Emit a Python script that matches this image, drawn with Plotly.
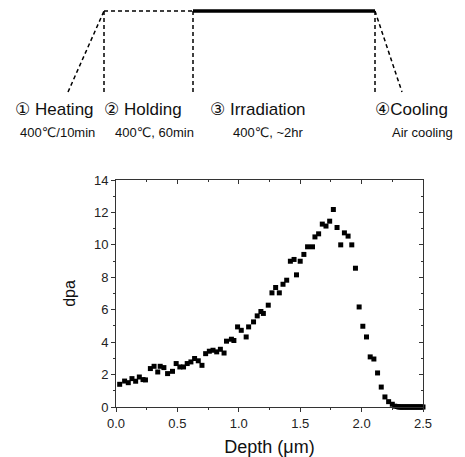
import plotly.graph_objects as go

# ---- data ----
depth_um = [0.03, 0.07, 0.10, 0.13, 0.16, 0.19, 0.22, 0.24, 0.28, 0.31, 0.34, 0.36, 0.39, 0.42,
            0.46, 0.49, 0.52, 0.55, 0.58, 0.61, 0.64, 0.67, 0.70, 0.73, 0.76, 0.79, 0.82, 0.85,
            0.88, 0.90, 0.94, 0.96, 0.99, 1.02, 1.06, 1.08, 1.12, 1.15, 1.18, 1.20, 1.24, 1.27,
            1.30, 1.33, 1.36, 1.39, 1.42, 1.45, 1.47, 1.50, 1.53, 1.56, 1.60, 1.62, 1.65, 1.68,
            1.71, 1.74, 1.77, 1.80, 1.83, 1.86, 1.89, 1.92, 1.95, 1.98, 2.01, 2.04, 2.07, 2.10,
            2.13, 2.16, 2.19, 2.22, 2.25, 2.27, 2.29, 2.30, 2.31, 2.32, 2.33, 2.34, 2.35, 2.36,
            2.37, 2.38, 2.39, 2.40, 2.41, 2.42, 2.43, 2.44, 2.45, 2.46, 2.47, 2.48, 2.49, 2.50]
dpa = [1.40, 1.60, 1.50, 1.75, 1.59, 1.85, 1.69, 1.67, 2.37, 2.51, 2.16, 2.51, 2.43, 2.06,
       2.20, 2.68, 2.47, 2.47, 2.68, 2.78, 2.99, 2.85, 2.57, 3.29, 3.44, 3.50, 3.40, 3.56,
       3.33, 4.06, 4.18, 4.10, 4.94, 4.73, 4.32, 4.94, 5.25, 5.62, 5.89, 5.77, 6.28, 7.04,
       7.37, 7.04, 7.57, 7.82, 8.99, 9.10, 8.15, 8.99, 9.41, 9.88, 9.88, 10.49, 10.68, 11.28,
       11.16, 11.46, 12.18, 11.07, 10.00, 10.74, 10.54, 10.00, 8.56, 6.17, 4.98, 4.32, 3.09, 2.96,
       2.10, 1.23, 0.62, 0.33, 0.17, 0.05, 0.03, 0.01, 0.0, 0.0, 0.0, 0.0, 0.0, 0.0,
       0.0, 0.0, 0.0, 0.0, 0.0, 0.0, 0.0, 0.0, 0.0, 0.0, 0.0, 0.0, 0.0, 0.0]

x_ticks = [0.0, 0.5, 1.0, 1.5, 2.0, 2.5]
x_ticklabels = ["0.0", "0.5", "1.0", "1.5", "2.0", "2.5"]
x_minor = [0.25, 0.75, 1.25, 1.75, 2.25]
y_ticks = [0, 2, 4, 6, 8, 10, 12, 14]
y_minor = [1, 3, 5, 7, 9, 11, 13]

stage_titles = ["① Heating", "② Holding", "③ Irradiation", "④Cooling"]
stage_conditions = ["400℃/10min", "400℃, 60min", "400℃, ~2hr", "Air cooling"]

# ---- layout helpers (page has an 8px body margin) ----
M = 8
W, H = 465 - M, 457 - M
def px(x):
    return (x - M) / W
def py(y):
    return 1 - (y - M) / H

FONT = "Arial, 'Liberation Sans', 'DejaVu Sans', sans-serif"
AX = "#333333"

fig = go.Figure()
fig.add_trace(go.Scatter(x=depth_um, y=dpa, mode="markers",
                         marker=dict(symbol="square", size=5, color="black"),
                         cliponaxis=False, showlegend=False, hoverinfo="skip"))
# invisible trace for mirrored (top/right) axes
fig.add_trace(go.Scatter(x=depth_um, y=dpa, mode="markers", xaxis="x2", yaxis="y2",
                         marker=dict(opacity=0), showlegend=False, hoverinfo="skip"))

xdom = [px(116), px(423)]
ydom = [py(407), py(180)]

common = dict(showline=True, linecolor=AX, linewidth=1, showgrid=False, zeroline=False,
              tickcolor=AX, ticklen=4, automargin=False)

fig.update_layout(
    width=W, height=H,
    margin=dict(l=0, r=0, t=0, b=0, pad=0, autoexpand=False),
    paper_bgcolor="white", plot_bgcolor="white",
    font=dict(family=FONT, color="#222222", size=13),
    xaxis=dict(domain=xdom, range=[0, 2.5], tickvals=x_ticks, ticktext=x_ticklabels,
               ticks="outside", minor=dict(tickvals=x_minor, ticks="outside", ticklen=2, tickcolor=AX),
               tickfont=dict(size=13, color="#222222"),
               title=dict(text="Depth (μm)", font=dict(size=18, color="#111111"), standoff=10),
               **common),
    yaxis=dict(domain=ydom, range=[0, 14], tickvals=y_ticks,
               ticks="outside", minor=dict(tickvals=y_minor, ticks="outside", ticklen=2, tickcolor=AX),
               tickfont=dict(size=13, color="#222222"),
               title=dict(text="dpa", font=dict(size=16, color="#111111"), standoff=14),
               **common),
    xaxis2=dict(overlaying="x", side="top", range=[0, 2.5], tickvals=x_ticks,
                ticks="inside", showticklabels=False,
                minor=dict(tickvals=x_minor, ticks="inside", ticklen=2, tickcolor=AX), **common),
    yaxis2=dict(overlaying="y", side="right", range=[0, 14], tickvals=y_ticks,
                ticks="inside", showticklabels=False,
                minor=dict(tickvals=y_minor, ticks="inside", ticklen=2, tickcolor=AX), **common),
)

# ---- schematic of the thermal history ----
dash = "4px,3px"
def seg(x0, y0, x1, y1, width=1.5, dashed=True):
    fig.add_shape(type="line", xref="paper", yref="paper",
                  x0=px(x0), y0=py(y0), x1=px(x1), y1=py(y1),
                  line=dict(color="black", width=width, dash=dash if dashed else "solid"))

top, bot = 11, 92
seg(68, bot, 104, top)            # heating ramp
seg(104, top, 193, top)           # holding
seg(193, top, 375, top, width=3.5, dashed=False)   # irradiation
seg(375, top, 402, bot)           # cooling ramp
for xv in (104, 193, 375):
    seg(xv, top, xv, bot)

title_x = [54, 143, 258, 411]
cond_x = [57, 154, 268, 422]
for t, c, tx, cx in zip(stage_titles, stage_conditions, title_x, cond_x):
    fig.add_annotation(xref="paper", yref="paper", x=px(tx), y=py(110), text=t,
                       showarrow=False, xanchor="center", yanchor="middle",
                       font=dict(size=17, color="#111111"))
    fig.add_annotation(xref="paper", yref="paper", x=px(cx), y=py(133), text=c,
                       showarrow=False, xanchor="center", yanchor="middle",
                       font=dict(size=13, color="#111111"))

fig.write_html("out.html")
